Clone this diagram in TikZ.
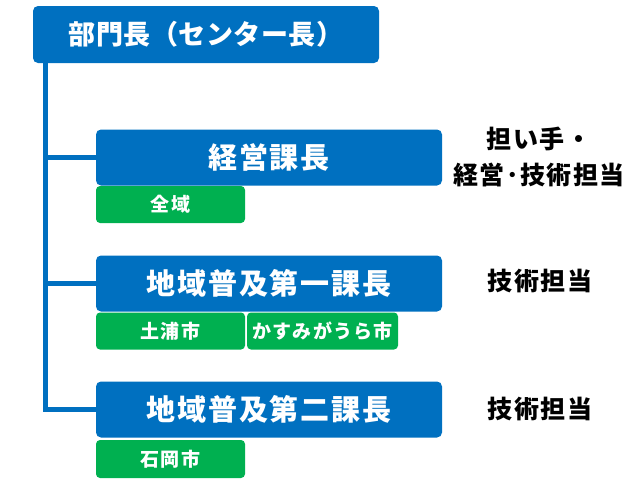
\documentclass[tikz,border=0pt]{standalone}
\usepackage{fontspec}
\setmainfont{Noto Sans CJK JP}
\newfontfamily\headfont{Noto Sans CJK JP}[LetterSpace=2]
\newfontfamily\widefont{Noto Sans CJK JP}[LetterSpace=6]
\definecolor{HeadClr}{RGB}{0,112,192}
\definecolor{AreaClr}{RGB}{0,176,80}

\begin{document}
\begin{tikzpicture}[x=1pt,y=-1pt,
  head/.style={rectangle,rounded corners=5pt,fill=HeadClr,text=white,inner sep=0pt,
    font=\headfont\bfseries\fontsize{27}{30}\selectfont,minimum width=346pt,minimum height=57pt},
  sect/.style={head,font=\widefont\bfseries\fontsize{29}{32}\selectfont,minimum height=56pt},
  area/.style={rectangle,rounded corners=4pt,fill=AreaClr,text=white,inner sep=0pt,
    font=\widefont\bfseries\fontsize{19}{20}\selectfont,minimum width=149pt,minimum height=37pt},
  duty/.style={font=\widefont\bfseries\fontsize{25}{36}\selectfont,align=center},
  link/.style={HeadClr,line width=5pt}]
\useasboundingbox (0,0) rectangle (632,482);

\node[head] (bucho) at (206,34.5) {部門長（センター長）};

\node[sect] (keiei) at (269,157.5) {経営課長};
\node[sect] (chiiki1) at (269,283.5) {地域普及第一課長};
\node[sect] (chiiki2) at (269,409.5) {地域普及第二課長};

\node[area] (zeniki) at (170.5,204.5) {全域};
\node[area] (tsuchiura) at (170.5,331) {土浦市};
\node[area,minimum width=151pt] (kasumi) at (322.5,331) {かすみがうら市};
\node[area,minimum height=38pt] (ishioka) at (170.5,459) {石岡市};

\node[duty] (tanteA) at (539,157) {担い手・\\経営･技術担当};
\node[duty] (tanteB) at (540,281) {技術担当};
\node[duty] (tanteC) at (540,409) {技術担当};

\coordinate (spine) at (45.5,62);
\draw[link] (spine) |- (keiei.west);
\draw[link] (spine) |- (chiiki1.west);
\draw[link] (spine) |- (chiiki2.west);

\end{tikzpicture}
\end{document}
